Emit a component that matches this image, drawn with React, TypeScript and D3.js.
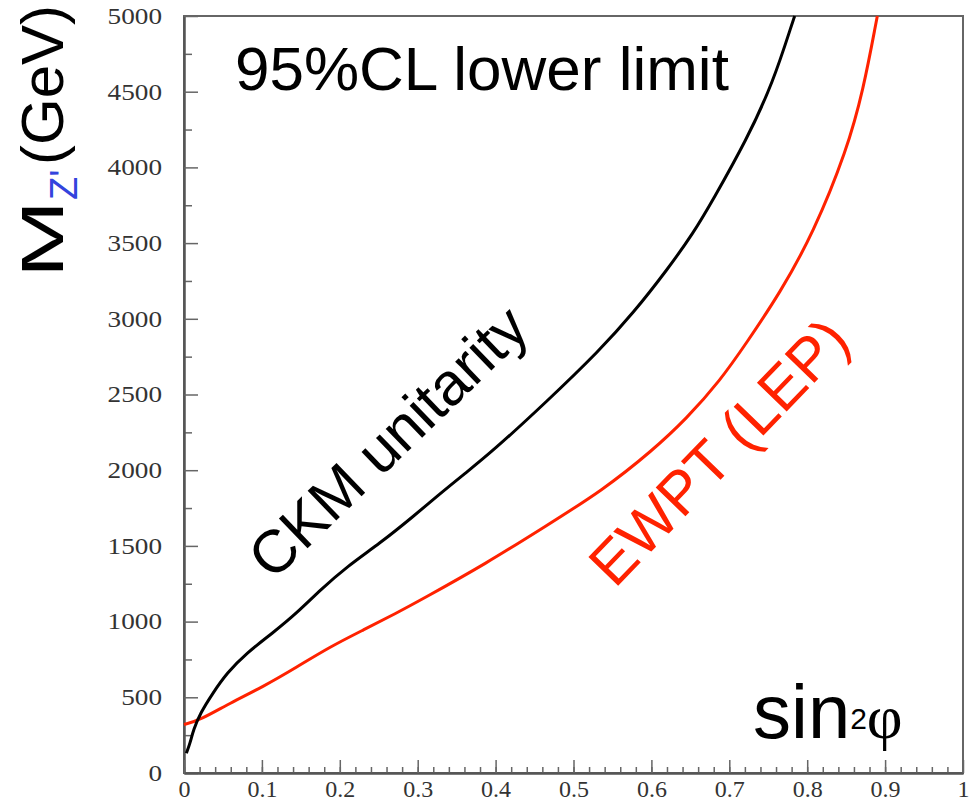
import React, { useEffect, useRef } from "react";
import * as d3 from "d3";

// CKM unitarity bound (black)
const ckmX = [0.003, 0.008, 0.012, 0.021, 0.037, 0.055, 0.08, 0.114, 0.145, 0.175, 0.209, 0.252, 0.294, 0.324, 0.361, 0.395, 0.465, 0.534, 0.577, 0.62, 0.654, 0.679, 0.722, 0.756, 0.782, 0.784];
const ckmY = [130, 200, 284, 396, 528, 660, 792, 925, 1057, 1209, 1363, 1519, 1693, 1825, 1980, 2120, 2450, 2794, 3040, 3322, 3567, 3785, 4181, 4557, 4973, 5000];

// EWPT (LEP) bound (red)
const ewptX = [0, 0.021, 0.059, 0.101, 0.145, 0.187, 0.23, 0.273, 0.303, 0.389, 0.461, 0.538, 0.602, 0.645, 0.688, 0.722, 0.765, 0.808, 0.851, 0.872, 0.889, 0.89];
const ewptY = [320, 350, 462, 568, 700, 832, 944, 1057, 1140, 1387, 1620, 1869, 2133, 2340, 2590, 2840, 3170, 3567, 4115, 4511, 4973, 5000];

const yMajor = [0, 500, 1000, 1500, 2000, 2500, 3000, 3500, 4000, 4500, 5000];
const yMinor = [250, 750, 1250, 1750, 2250, 2750, 3250, 3750, 4250, 4750];
const xMajor = [0, 0.1, 0.2, 0.3, 0.4, 0.5, 0.6, 0.7, 0.8, 0.9, 1];
const xMinor = d3.range(0, 50).map((i) => i * 0.02);

const W = 977;
const H = 803;
const margin = { top: 16, right: 14, bottom: 30, left: 184 };

const serif = "'Liberation Serif', 'Times New Roman', serif";
const sans = "'Liberation Sans', Arial, sans-serif";

const App: React.FC = () => {
  const svgRef = useRef<SVGSVGElement>(null);

  useEffect(() => {
    const svg = d3.select(svgRef.current);
    const x = d3.scaleLinear().domain([0, 1]).range([margin.left, W - margin.right]);
    const y = d3.scaleLinear().domain([0, 5000]).range([H - margin.bottom, margin.top]);

    const fmtX = (d: d3.NumberValue) => (+d === 0 || +d === 1 ? String(d) : d3.format(".1f")(d));

    // frame
    svg.select(".frame")
      .selectAll("rect")
      .data([0])
      .join("rect")
      .attr("x", x(0))
      .attr("y", y(5000))
      .attr("width", x(1) - x(0))
      .attr("height", y(0) - y(5000))
      .attr("fill", "none")
      .attr("stroke", "#666")
      .attr("stroke-width", 2);

    // axes, ticks pointing inward
    const yAxis = d3.axisLeft(y).tickValues(yMajor).tickSize(-14).tickSizeOuter(0).tickPadding(22).tickFormat(d3.format("d"));
    const yAxisMinor = d3.axisLeft(y).tickValues(yMinor).tickSize(-8).tickSizeOuter(0).tickFormat(() => "");
    const xAxis = d3.axisBottom(x).tickValues(xMajor).tickSize(-13).tickSizeOuter(0).tickPadding(7).tickFormat(fmtX);
    const xAxisMinor = d3.axisBottom(x).tickValues(xMinor).tickSize(-6).tickSizeOuter(0).tickFormat(() => "");

    svg.select<SVGGElement>(".y-axis").attr("transform", `translate(${x(0)},0)`).call(yAxis);
    svg.select<SVGGElement>(".y-axis-minor").attr("transform", `translate(${x(0)},0)`).call(yAxisMinor);
    svg.select<SVGGElement>(".x-axis").attr("transform", `translate(0,${y(0)})`).call(xAxis);
    svg.select<SVGGElement>(".x-axis-minor").attr("transform", `translate(0,${y(0)})`).call(xAxisMinor);

    svg.selectAll(".y-axis, .y-axis-minor, .x-axis, .x-axis-minor")
      .attr("font-family", serif)
      .call((g: any) => g.select(".domain").attr("stroke", "#555").attr("stroke-width", 2))
      .call((g: any) => g.selectAll(".tick line").attr("stroke", "#666").attr("stroke-width", 1.5));

    svg.selectAll(".y-axis text, .x-axis text")
      .style("font-family", serif)
      .attr("fill", "#333");
    svg.selectAll<SVGTextElement, number>(".y-axis text")
      .attr("font-size", 23)
      .attr("textLength", (d) => String(d).length * 13.6)
      .attr("lengthAdjust", "spacingAndGlyphs");
    svg.selectAll(".x-axis text").attr("font-size", 24);

    // curves (basis smooths the reading noise)
    const line = d3.line<[number, number]>()
      .x((d) => x(d[0]))
      .y((d) => y(d[1]))
      .curve(d3.curveBasis);

    svg.select(".ckm")
      .attr("d", line(ckmX.map((v, i) => [v, ckmY[i]] as [number, number])))
      .attr("fill", "none")
      .attr("stroke", "#000")
      .attr("stroke-width", 3);

    svg.select(".ewpt")
      .attr("d", line(ewptX.map((v, i) => [v, ewptY[i]] as [number, number])))
      .attr("fill", "none")
      .attr("stroke", "#ff2200")
      .attr("stroke-width", 3);
  }, []);

  return (
    <svg ref={svgRef} width={W} height={H} style={{ position: "absolute", left: 0, top: 0, background: "#fff" }}>
      <g className="frame" />
      <g className="y-axis-minor" />
      <g className="x-axis-minor" />
      <g className="y-axis" />
      <g className="x-axis" />
      <path className="ewpt" />
      <path className="ckm" />

      <text x={235} y={90} fontFamily={sans} fontSize={62} fill="#000">95%CL lower limit</text>

      <text transform="translate(388,442) rotate(-44)" textAnchor="middle" dominantBaseline="central"
        fontFamily={sans} fontSize={60} fill="#000">CKM unitarity</text>

      <text transform="translate(719,452) rotate(-46)" textAnchor="middle" dominantBaseline="central"
        fontFamily={sans} fontSize={60} fill="#ff2200">EWPT (LEP)</text>

      <text x={753} y={738} fontFamily={sans} fontSize={76} fill="#000">
        sin<tspan fontSize={30} dy={-9}>2</tspan>
        <tspan fontFamily={serif} fontSize={62} dy={9}>φ</tspan>
      </text>

      <g transform="translate(63,278) rotate(-90)">
        <text x={0} y={0} fontFamily={sans} fontSize={60} fill="#000" textLength={78} lengthAdjust="spacingAndGlyphs">M</text>
        <text x={78} y={14} fontFamily={sans} fontSize={38} fill="#3344dd">Z'</text>
        <text x={113} y={0} fontFamily={sans} fontSize={60} fill="#000">(GeV)</text>
      </g>
    </svg>
  );
};

export default App;
